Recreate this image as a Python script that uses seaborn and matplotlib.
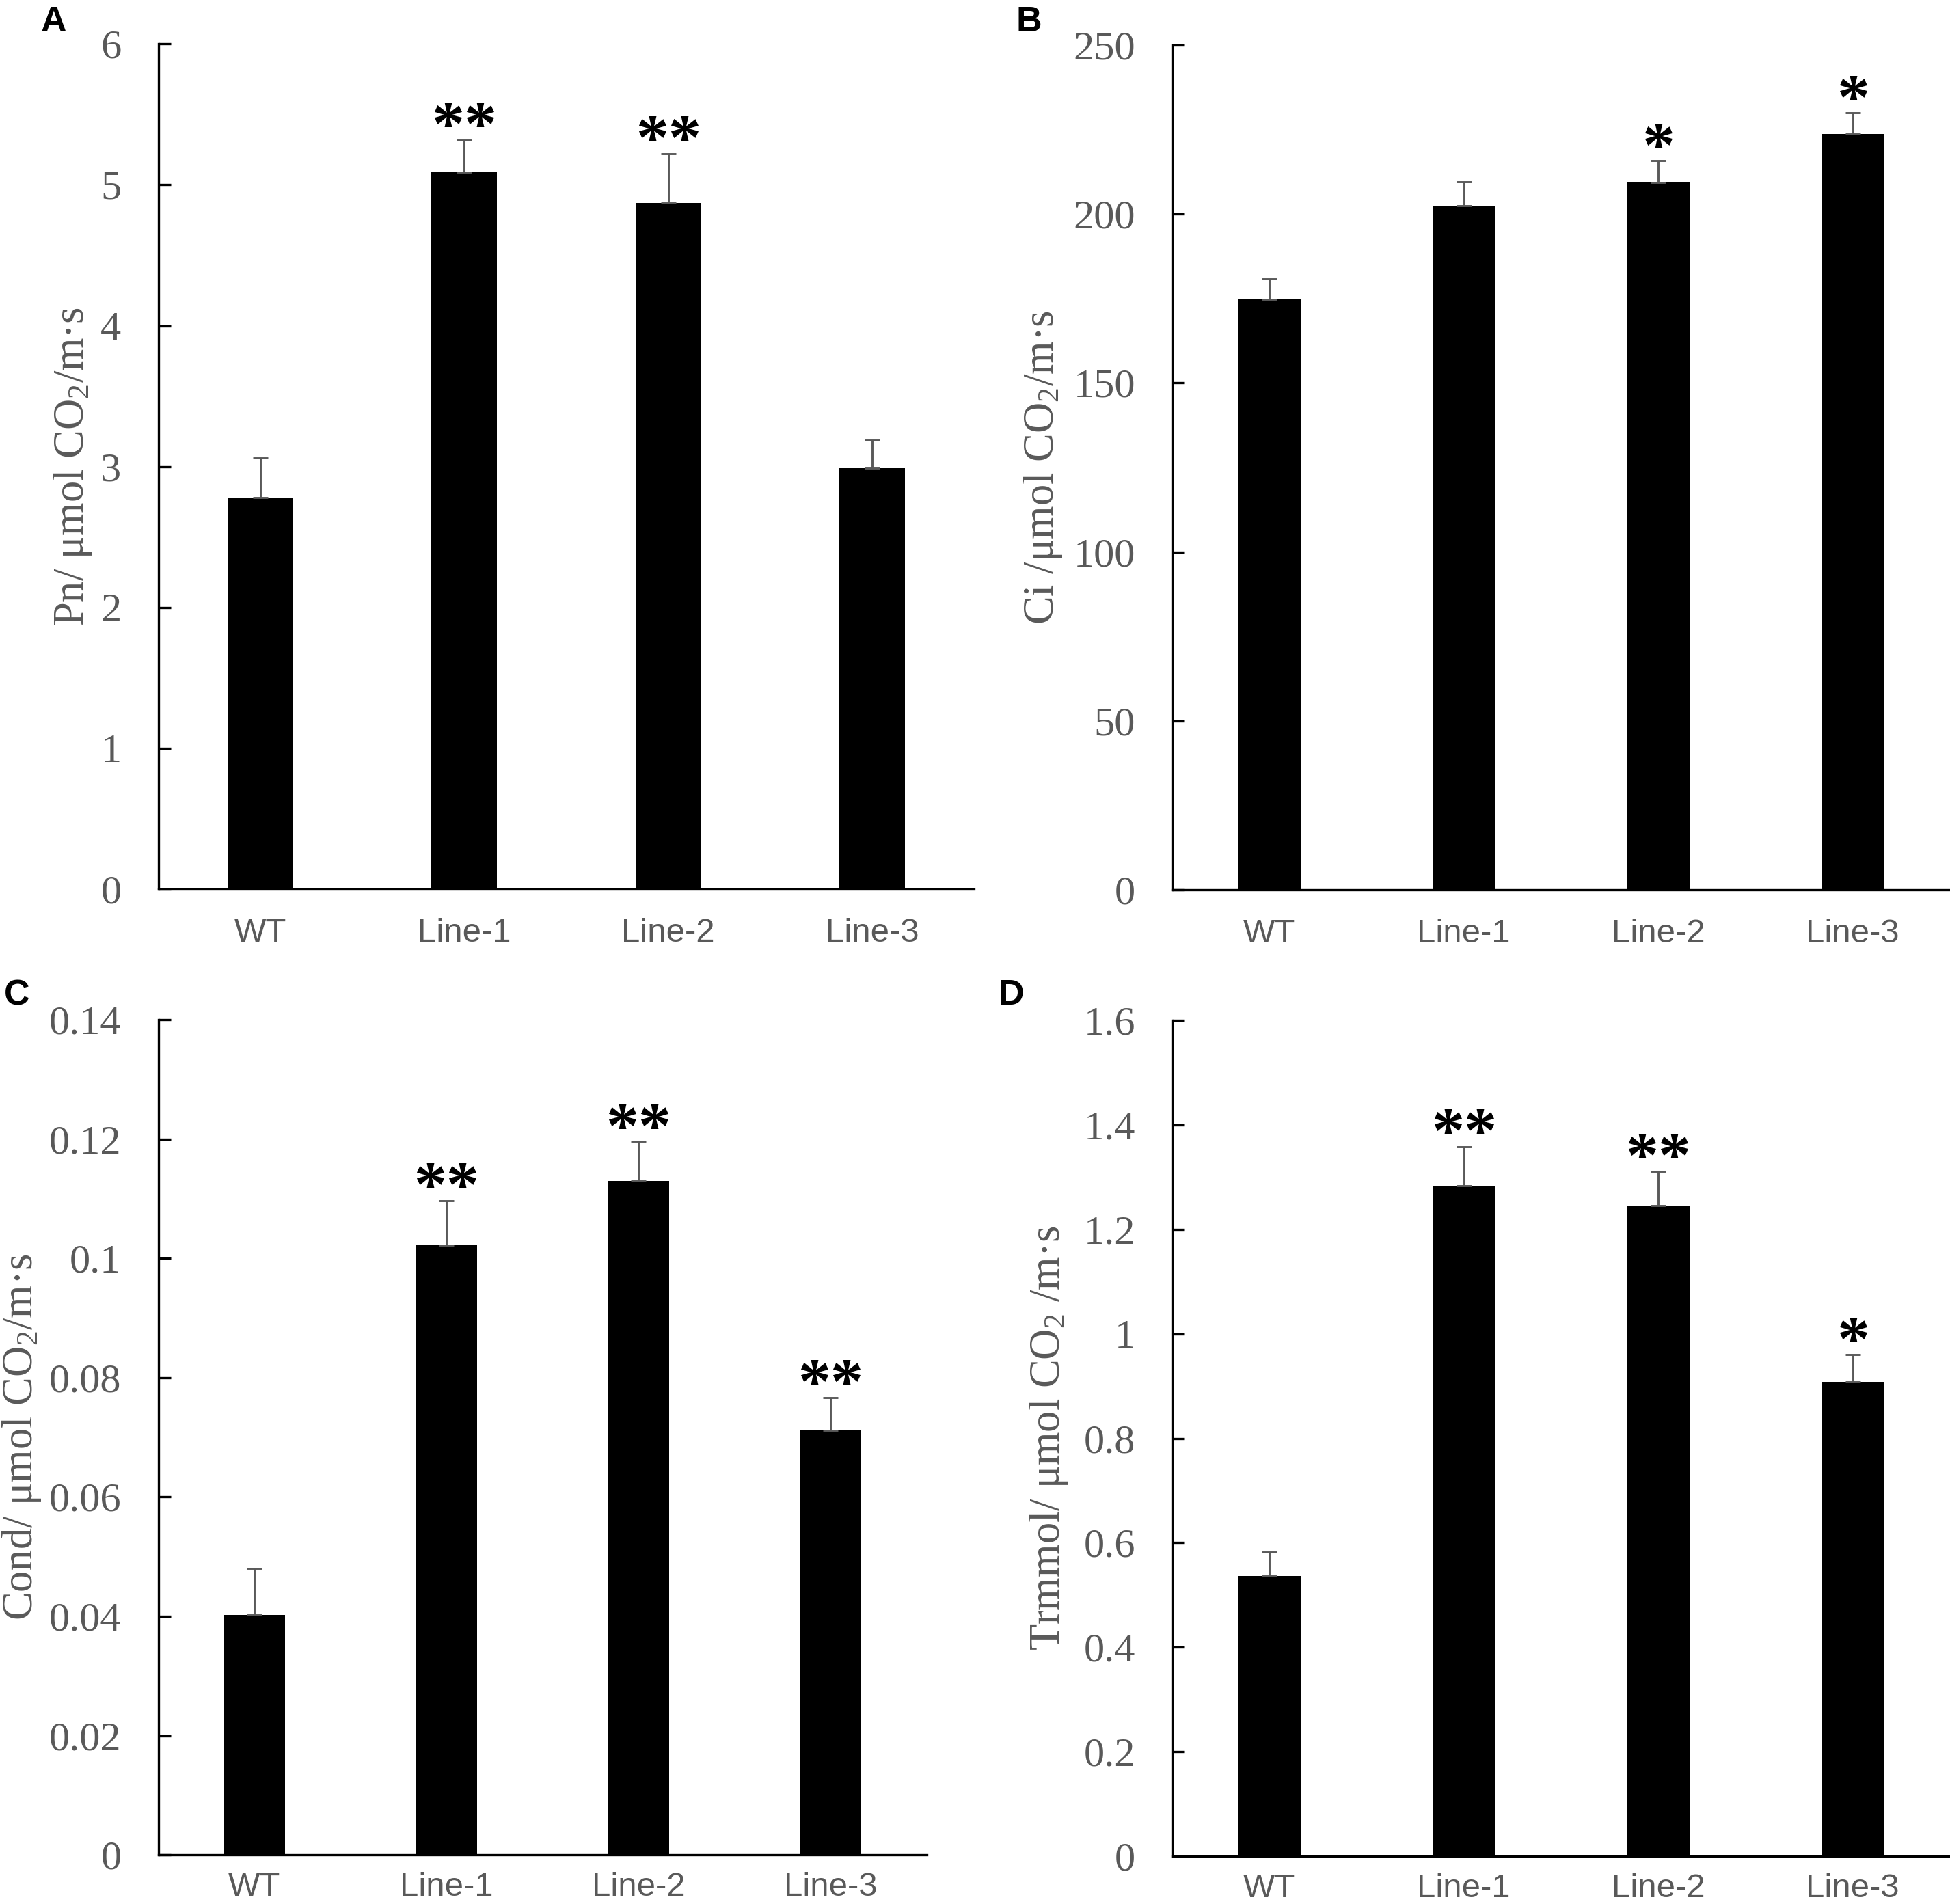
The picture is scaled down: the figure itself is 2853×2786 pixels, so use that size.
import numpy as np
import pandas as pd
import matplotlib
matplotlib.use("Agg")
import matplotlib.pyplot as plt
from matplotlib.ticker import FuncFormatter, MultipleLocator
import seaborn as sns

# Values (mean and upper SD bar)
categories = ["WT", "Line-1", "Line-2", "Line-3"]

pn_mean = [2.78, 5.09, 4.87, 2.99]
pn_err = [0.28, 0.23, 0.35, 0.20]
pn_sig = ["", "**", "**", ""]

ci_mean = [174.8, 202.5, 209.4, 223.6]
ci_err = [6.0, 7.0, 6.3, 6.3]
ci_sig = ["", "", "*", "*"]

cond_mean = [0.0402, 0.1022, 0.1130, 0.0712]
cond_err = [0.0078, 0.0075, 0.0066, 0.0055]
cond_sig = ["", "**", "**", "**"]

tr_mean = [0.536, 1.284, 1.246, 0.908]
tr_err = [0.046, 0.074, 0.065, 0.052]
tr_sig = ["", "**", "**", "*"]

GRAY = "#595959"
SERIF = ["Liberation Serif", "DejaVu Serif"]
SANS = ["Liberation Sans", "DejaVu Sans"]

sns.set_style("white")
plt.rcParams["font.family"] = SERIF
plt.rcParams["mathtext.fontset"] = "custom"
plt.rcParams["mathtext.rm"] = "Liberation Serif"
plt.rcParams["mathtext.default"] = "regular"


def num_fmt(v, pos):
    return f"{v:g}"


# Draw one panel: seaborn bars, upper error bars and significance stars
def draw_panel(fig, rect, means, errs, sigs, ymax, ystep, ylabel, label_x, letter, letter_xy, xpad):
    ax = fig.add_axes(rect)
    df = pd.DataFrame({"group": categories, "value": means})
    sns.barplot(data=df, x="group", y="value", color="black", saturation=1,
                width=0.32, errorbar=None, linewidth=0, ax=ax)
    x = np.arange(len(categories))
    ax.errorbar(x, means, yerr=[np.zeros(len(errs)), errs], fmt="none",
                ecolor=GRAY, elinewidth=0.7, capsize=2.6, capthick=0.7)
    for xi, m, e, s in zip(x, means, errs, sigs):
        if s:
            ax.annotate(s, (xi, m + e), xytext=(0, -2), textcoords="offset points",
                        ha="center", va="baseline", fontsize=23, fontweight="bold",
                        family=SERIF, color="black")

    ax.set_xlim(-0.5, len(categories) - 0.5)
    ax.set_ylim(0, ymax)
    ax.yaxis.set_major_locator(MultipleLocator(ystep))
    ax.yaxis.set_major_formatter(FuncFormatter(num_fmt))

    for side in ["top", "right"]:
        ax.spines[side].set_visible(False)
    for side in ["left", "bottom"]:
        ax.spines[side].set_color("black")
        ax.spines[side].set_linewidth(0.8)

    ax.tick_params(axis="y", direction="in", length=4.3, width=0.8, color="black",
                   labelsize=14.5, labelcolor=GRAY, pad=13, left=True)
    ax.tick_params(axis="x", length=0, pad=xpad, labelcolor=GRAY)
    for t in ax.get_xticklabels():
        t.set_fontfamily(SANS)
        t.set_fontsize(11.8)

    ax.set_xlabel("")
    ax.set_ylabel(ylabel, fontsize=15, color=GRAY, va="center")
    ax.yaxis.set_label_coords(label_x, 0.5)

    fig.text(letter_xy[0], letter_xy[1], letter, fontsize=12.5, fontweight="bold",
             family=SANS, color="black", ha="left", va="top")
    return ax


fig = plt.figure(figsize=(2853 / 300, 2786 / 300), dpi=300)

draw_panel(fig, [0.0812, 0.5330, 0.4183, 0.4439], pn_mean, pn_err, pn_sig, 6, 1,
           r"Pn/ μmol CO$_2$/m·s", -0.1045, "A", (0.021, 0.997), 10)
draw_panel(fig, [0.6011, 0.5325, 0.3989, 0.4439], ci_mean, ci_err, ci_sig, 250, 50,
           r"Ci /μmol CO$_2$/m·s", -0.166, "B", (0.521, 0.997), 10)
draw_panel(fig, [0.0812, 0.0258, 0.3941, 0.4386], cond_mean, cond_err, cond_sig, 0.14, 0.02,
           r"Cond/ μmol CO$_2$/m·s", -0.178, "C", (0.002, 0.486), 6)
draw_panel(fig, [0.6011, 0.0251, 0.3989, 0.4390], tr_mean, tr_err, tr_sig, 1.6, 0.2,
           r"Trmmol/ μmol CO$_2$ /m·s", -0.158, "D", (0.512, 0.486), 6)

fig.savefig("out.png", dpi=300)
